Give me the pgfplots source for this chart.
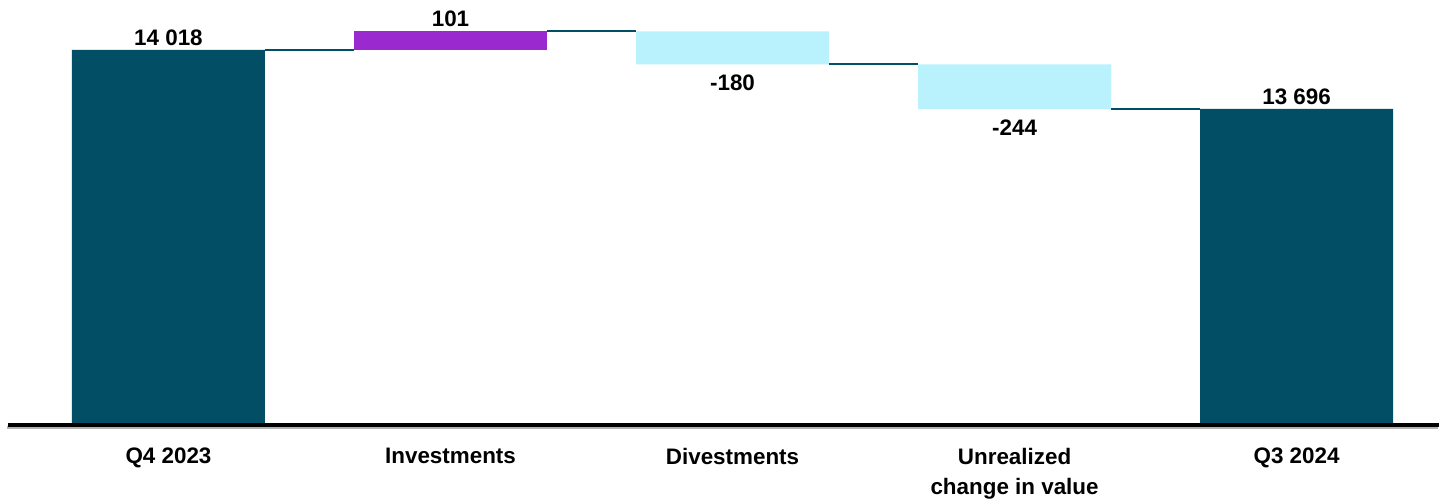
\documentclass[border=0pt]{standalone}
\usepackage{pgfplots}
\pgfplotsset{compat=1.18}
\usepackage{fontspec}
\setmainfont{Liberation Sans}

\definecolor{total}{HTML}{024F65}
\definecolor{invest}{HTML}{9A29CF}
\definecolor{divest}{HTML}{B9F1FD}

% Shared frame for the bar layer and the annotation layer
\pgfplotsset{
  bridge/.style={
    scale only axis,
    width=715.5pt, height=212.5pt,
    at={(0,0)}, anchor=south west,
    xmin=-0.569, xmax=4.505,
    ymin=11971, ymax=14290,
    axis y line=none,
  },
}

\begin{document}
\begin{tikzpicture}
\path[use as bounding box] (-4pt,-37pt) rectangle (715.5pt,212.5pt);

% Bars: invisible base (lower end of each step), then the visible segment
\begin{axis}[bridge,
    ybar stacked, bar width=96.5pt,
    axis x line=none,
  ]
  \addplot[draw=none, fill=none] coordinates {(0,0) (1,14018) (2,13939) (3,13695) (4,0)};
  \addplot[draw=none, fill=total] coordinates {(0,14018) (1,0) (2,0) (3,0) (4,13696)};
  \addplot[draw=none, fill=invest] coordinates {(0,0) (1,101) (2,0) (3,0) (4,0)};
  \addplot[draw=none, fill=divest] coordinates {(0,0) (1,0) (2,180) (3,244) (4,0)};
\end{axis}

% Connectors, value labels and category axis
\begin{axis}[bridge,
    clip=false,
    axis x line*=bottom,
    x axis line style={line width=2pt, black, -,
      preaction={draw=black!30, line width=1.6pt, transform canvas={yshift=-1.4pt, xshift=-0.6pt}}},
    xtick={0,1,2,3,4},
    xticklabels={Q4 2023, Investments, Divestments, {Unrealized\\change in value}, Q3 2024},
    major tick length=0pt,
    xticklabel style={font=\bfseries\fontsize{11.2}{15}\selectfont, align=center, yshift=-8pt},
    nodes near coords,
    point meta=explicit symbolic,
    every node near coord/.append style={font=\bfseries\fontsize{11.2}{13}\selectfont, inner sep=0pt},
  ]
  \addplot[total, line width=1pt, no marks, nodes near coords=] coordinates {(0.342,14018) (0.658,14018)};
  \addplot[total, line width=1pt, no marks, nodes near coords=] coordinates {(1.342,14119) (1.658,14119)};
  \addplot[total, line width=1pt, no marks, nodes near coords=] coordinates {(2.342,13939) (2.658,13939)};
  \addplot[total, line width=1pt, no marks, nodes near coords=] coordinates {(3.342,13695) (3.658,13695)};

  % labels above the bar tops
  \addplot[draw=none, no marks,
    every node near coord/.append style={anchor=base, yshift=2.2pt}]
    coordinates {(0,14018) [14~018] (1,14119) [101] (4,13696) [13~696]};
  % labels below the bar bottoms
  \addplot[draw=none, no marks,
    every node near coord/.append style={anchor=north, yshift=-5pt}]
    coordinates {(2,13939) [-180] (3,13695) [-244]};
\end{axis}
\end{tikzpicture}
\end{document}
